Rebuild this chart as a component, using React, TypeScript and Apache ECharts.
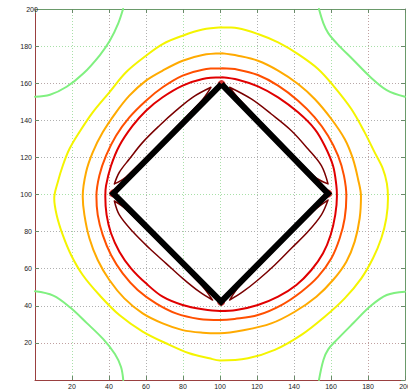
import React, { useEffect, useRef } from "react";
import * as echarts from "echarts";

type Pt = [number, number];

// Axis ticks (both axes run 0..200 in steps of 20)
const axisMin = 0;
const axisMax = 200;
const axisStep = 20;

// Outermost level: four open arcs in the corners
const greenTopLeft: Pt[] = [[0, 152.7], [8.1, 153.8], [17.1, 158.1], [26.1, 165.2], [35.1, 175.2], [40.5, 183], [45, 192.3], [47.6, 200]];
const greenBottomLeft: Pt[] = [[0, 47.8], [9.9, 45.5], [18.9, 39.2], [27.9, 30.8], [36.9, 22], [43.2, 14], [46.5, 7], [47.7, 0]];
const greenTopRight: Pt[] = [[153.5, 200], [155.9, 192.3], [158.5, 187], [163.1, 181.5], [172.1, 172.5], [181.1, 163.5], [190.1, 156.3], [200, 152.7]];
const greenBottomRight: Pt[] = [[153.5, 0], [155.9, 10.8], [158.5, 16.5], [163.1, 21.6], [172.1, 30.7], [181.1, 39.6], [190.1, 45.8], [200, 47.6]];

// Closed levels, traced counter-clockwise from the top
const yellowLevel: Pt[] = [
  [101, 190.1], [90.6, 188.9], [79.8, 185.6], [69, 181.1], [60, 174.8], [49.2, 165.9], [40.2, 155.1], [31.2, 144.3],
  [23.9, 133.5], [18.6, 124.5], [15, 115.5], [12.3, 106.6], [10.4, 98],
  [11.7, 89], [15, 78.2], [19.5, 67.4], [25.8, 56.6], [34.8, 45.8], [45.6, 35], [58.2, 26.1], [70.8, 19.8],
  [83.4, 14.4], [94.2, 11.7], [100, 10.5],
  [115.1, 11.7], [129.6, 16.2], [144, 24.3], [156.6, 34.1], [167.4, 44], [176.4, 54.8], [182.7, 65.6],
  [187.2, 76.4], [189.9, 87.2], [190.8, 98],
  [190.2, 106], [188, 114], [183.6, 122.7], [178.2, 133.5], [171, 146.1], [162, 157.8], [153, 167.7],
  [142.2, 175.7], [131.4, 182], [120.5, 186.5], [109.7, 189.6], [101, 190.1],
];

const orangeLevel: Pt[] = [
  [101, 176.1], [90.6, 175.2], [79.8, 172.1], [69, 166.8], [60, 161.4], [51, 153.3], [43.8, 144.3], [36.6, 133.5],
  [31.2, 122.7], [27.6, 112], [25.8, 99],
  [26.7, 89], [29.4, 76.4], [33.9, 64.7], [40.2, 53.9], [48.3, 44], [58.2, 35.9], [69, 30.5], [79.8, 26.9],
  [90.6, 25.5], [100, 25.2],
  [113.3, 26.9], [127.7, 30.5], [140.4, 36.8], [152.1, 44.9], [161.1, 53.9], [168.3, 63.8], [172.8, 74.6],
  [175.5, 87.2], [176.2, 99],
  [174.6, 108.4], [171.9, 119.1], [167.4, 129.9], [160.2, 140.7], [151.2, 151.5], [142.2, 159.6],
  [131.4, 166.8], [120.5, 172.1], [109.7, 174.8], [101, 176.1],
];

const orangeRedLevel: Pt[] = [
  [101, 168], [90.6, 167.3], [79.8, 164.1], [69, 157.8], [60, 150.6], [51, 141.6], [43.8, 131.7], [38.4, 120.9],
  [34.8, 110.2], [33.2, 99],
  [33.9, 89], [36.6, 78.2], [41.1, 67.4], [47.4, 57.5], [55.5, 48.5], [65.4, 41.3], [76.2, 35.9], [88.8, 32.9],
  [100, 32.3],
  [107.9, 32.9], [120.5, 35], [133.2, 40.4], [144, 47.6], [153, 55.7], [160.2, 65.6], [164.7, 76.4],
  [167.4, 87.2], [168.3, 99],
  [167, 110.2], [163.8, 120.9], [158.4, 131.7], [151.2, 141.6], [142.2, 150.6], [131.4, 158.7],
  [120.5, 164.4], [109.7, 167.3], [101, 168],
];

const redLevel: Pt[] = [
  [101, 163.2], [90.6, 162.3], [79.8, 158.7], [69, 152.4], [60, 145.2], [52.8, 137.1], [45.6, 126.3], [41.1, 115.5],
  [38.4, 104.8], [38, 99],
  [38.7, 89], [41.1, 79.1], [45.6, 69.2], [51.9, 60.2], [60, 52.1], [69, 44.9], [79.8, 40.4], [90.6, 38.1],
  [100, 37.2],
  [108.8, 37.7], [120.5, 40.4], [131.4, 44.9], [141.3, 51.2], [149.4, 59.3], [155.7, 68.3], [159.8, 78.2],
  [162.3, 89], [163.2, 99],
  [162.9, 104.8], [161.1, 115.5], [156.6, 126.3], [151.2, 135.3], [142.2, 144.3], [131.4, 152.4],
  [120.5, 158.3], [109.7, 161.9], [101, 163.2],
];

// Innermost level: a thin loop along each edge of the diamond
const darkRedTopLeft: Pt[] = [
  [42.9, 105.7], [45.6, 112], [51, 119.1], [58.2, 128.1], [67.2, 137.1], [76.2, 145.2], [85.2, 152.4], [95.1, 157.8],
  [89.2, 149.6], [49.2, 109.4], [42.9, 105.7],
];
const darkRedTopRight: Pt[] = [
  [105.2, 157.8], [116.9, 151.5], [127.7, 143.4], [138.6, 134.4], [147.6, 124.5], [154.8, 115.5], [158.4, 105.7],
  [150.8, 109.9], [110.8, 150.9], [105.2, 157.8],
];
const darkRedBottomLeft: Pt[] = [
  [42.9, 96.5], [45.6, 89], [52.8, 80], [61.8, 71], [70.8, 62.9], [79.8, 54.8], [88.8, 47.6], [96, 43.1],
  [89.2, 52], [49.2, 92.1], [42.9, 96.5],
];
const darkRedBottomRight: Pt[] = [
  [158.4, 97], [154.8, 89], [147.6, 80], [138.6, 71], [129.6, 62], [120.5, 53.9], [112.4, 47.6], [105.2, 43.1],
  [110.8, 50.9], [150.8, 91.3], [158.4, 97],
];

// The diamond itself
const diamond: Pt[] = [[100.8, 159.5], [42.3, 100.6], [100.6, 42.2], [158.4, 100.5], [100.8, 159.5]];

// Grid line colours, one per tick from 0 to 200
const xGridColors = ["#b0a0a0", "#a8e0a8", "#b8a8a8", "#b0b0b0", "#a8e0a8", "#a8e0a8", "#b0b0b0", "#b0b0b0", "#a8e0a8", "#c0a0a0", "#b0b0b0"];
const yGridColors = ["#b0a0a0", "#c0a0a0", "#b0b0b0", "#b0b0b0", "#b0b0b0", "#a8e0a8", "#b0b0b0", "#b0b0b0", "#b8a8a8", "#a8e0a8", "#b0b0b0"];

const fontFamily = "'Liberation Sans', Arial, sans-serif";

function curve(name: string, data: Pt[], color: string, width: number, z = 2) {
  return {
    name,
    type: "line",
    data,
    smooth: 0.35,
    showSymbol: false,
    symbol: "none",
    silent: true,
    z,
    lineStyle: { color, width, cap: "round", join: "round" },
  };
}

export default function App() {
  const ref = useRef<HTMLDivElement>(null);

  useEffect(() => {
    if (!ref.current) return;
    const chart = echarts.init(ref.current, undefined, { renderer: "svg" });

    const labelledAxis = (gridColors: string[], position: string) => ({
      type: "value",
      position,
      min: axisMin,
      max: axisMax,
      interval: axisStep,
      axisLine: { show: true, onZero: false, lineStyle: { color: "#9a4040", width: 1 } },
      axisTick: { show: true, inside: true, length: 4, lineStyle: { color: "#6a8a6a" } },
      axisLabel: {
        show: true,
        showMinLabel: false,
        alignMaxLabel: "center",
        fontSize: 7,
        color: "#222",
        fontFamily,
        margin: 3,
      },
      splitLine: { show: true, lineStyle: { color: gridColors, type: [1, 2], width: 1 } },
    });

    const plainAxis = (position: string) => ({
      type: "value",
      position,
      min: axisMin,
      max: axisMax,
      interval: axisStep,
      axisLine: { show: true, onZero: false, lineStyle: { color: "#6a9a6a", width: 1 } },
      axisTick: { show: true, inside: true, length: 4, lineStyle: { color: "#6a8a6a" } },
      axisLabel: { show: false },
      splitLine: { show: false },
    });

    chart.setOption({
      animation: false,
      backgroundColor: "#ffffff",
      grid: { left: 35, right: 3, top: 9, bottom: 9, containLabel: false, outerBoundsMode: "none" },
      xAxis: [labelledAxis(xGridColors, "bottom"), plainAxis("top")],
      yAxis: [labelledAxis(yGridColors, "left"), plainAxis("right")],
      series: [
        curve("green-tl", greenTopLeft, "#80f080", 2),
        curve("green-bl", greenBottomLeft, "#80f080", 2),
        curve("green-tr", greenTopRight, "#80f080", 2),
        curve("green-br", greenBottomRight, "#80f080", 2),
        curve("yellow", yellowLevel, "#f4f400", 2),
        curve("orange", orangeLevel, "#ffaa00", 2),
        curve("orange-red", orangeRedLevel, "#ff5000", 2),
        curve("red", redLevel, "#e00000", 2),
        curve("darkred-tl", darkRedTopLeft, "#7a0000", 1.5),
        curve("darkred-tr", darkRedTopRight, "#7a0000", 1.5),
        curve("darkred-bl", darkRedBottomLeft, "#7a0000", 1.5),
        curve("darkred-br", darkRedBottomRight, "#7a0000", 1.5),
        {
          name: "vertices",
          type: "scatter",
          data: diamond.slice(0, 4),
          symbol: "circle",
          symbolSize: 8,
          silent: true,
          z: 3,
          itemStyle: { color: "#d00000" },
        },
        {
          name: "diamond",
          type: "line",
          data: diamond,
          smooth: false,
          showSymbol: false,
          symbol: "none",
          silent: true,
          z: 4,
          lineStyle: { color: "#000000", width: 6, join: "miter", cap: "butt" },
        },
      ],
    });

    return () => chart.dispose();
  }, []);

  return (
    <div
      ref={ref}
      style={{ position: "fixed", left: 0, top: 0, width: 408, height: 389, background: "#fff" }}
    />
  );
}
